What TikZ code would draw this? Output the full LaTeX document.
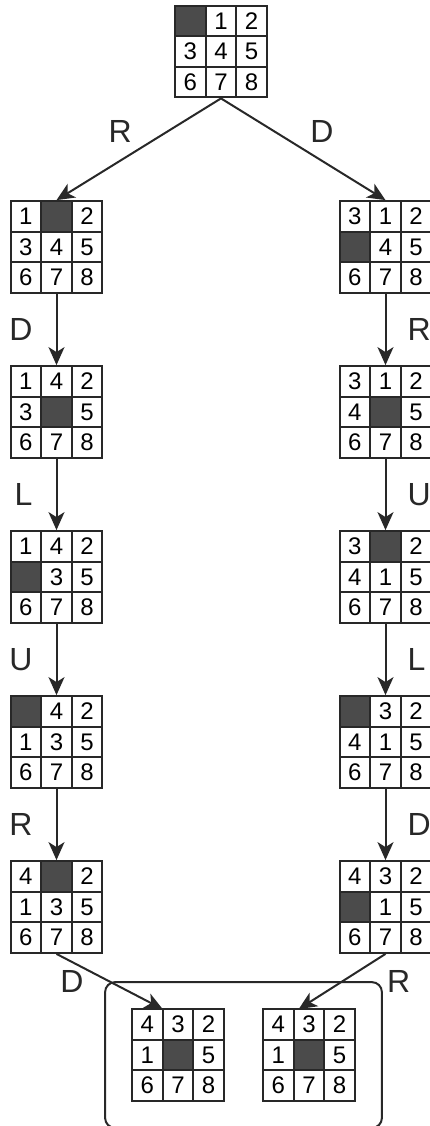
\documentclass[tikz,border=0pt]{standalone}
\usepackage{fontspec}
\setmainfont{Liberation Sans}
\usetikzlibrary{arrows.meta, positioning, matrix, fit, calc}
\definecolor{linegray}{RGB}{40, 40, 40}
\definecolor{blankgray}{RGB}{75, 75, 75}

\begin{document}
\begin{tikzpicture}[
    x=0.5pt, y=-0.5pt,
    node distance=35.6pt,
    board/.style={matrix of nodes, nodes in empty cells, inner sep=0pt, outer sep=0pt, column sep=-1pt, row sep=-1pt,
        nodes={draw=linegray, line width=1pt, minimum size=15.3pt, inner sep=0pt, anchor=center, font=\fontsize{12}{14}\selectfont}},
    blank/.style={fill=blankgray},
    move/.style={font=\fontsize{16}{19}\selectfont, inner sep=3pt},
    arrow/.style={-{Stealth[length=9pt, width=8pt, inset=2.5pt]}, line width=1pt, linegray},
    goalbox/.style={draw=linegray, line width=1pt, rounded corners=5pt, inner sep=13pt}
]
    \useasboundingbox (0,0) rectangle (429,1126);

    % Start state
    \matrix[board] (start) at (221,51.5) {
        |[blank]| & 1 & 2 \\
        3 & 4 & 5 \\
        6 & 7 & 8 \\
    };

    % Left branch
    \matrix[board] (left1) at (56.5,247) {
        1 & |[blank]| & 2 \\
        3 & 4 & 5 \\
        6 & 7 & 8 \\
    };
    \matrix[board, below=of left1] (left2) {
        1 & 4 & 2 \\
        3 & |[blank]| & 5 \\
        6 & 7 & 8 \\
    };
    \matrix[board, below=of left2] (left3) {
        1 & 4 & 2 \\
        |[blank]| & 3 & 5 \\
        6 & 7 & 8 \\
    };
    \matrix[board, below=of left3] (left4) {
        |[blank]| & 4 & 2 \\
        1 & 3 & 5 \\
        6 & 7 & 8 \\
    };
    \matrix[board, below=of left4] (left5) {
        4 & |[blank]| & 2 \\
        1 & 3 & 5 \\
        6 & 7 & 8 \\
    };

    % Right branch
    \matrix[board] (right1) at (385.5,247) {
        3 & 1 & 2 \\
        |[blank]| & 4 & 5 \\
        6 & 7 & 8 \\
    };
    \matrix[board, below=of right1] (right2) {
        3 & 1 & 2 \\
        4 & |[blank]| & 5 \\
        6 & 7 & 8 \\
    };
    \matrix[board, below=of right2] (right3) {
        3 & |[blank]| & 2 \\
        4 & 1 & 5 \\
        6 & 7 & 8 \\
    };
    \matrix[board, below=of right3] (right4) {
        |[blank]| & 3 & 2 \\
        4 & 1 & 5 \\
        6 & 7 & 8 \\
    };
    \matrix[board, below=of right4] (right5) {
        4 & 3 & 2 \\
        |[blank]| & 1 & 5 \\
        6 & 7 & 8 \\
    };

    % Goal states
    \matrix[board] (goalL) at (178,1055) {
        4 & 3 & 2 \\
        1 & |[blank]| & 5 \\
        6 & 7 & 8 \\
    };
    \matrix[board] (goalR) at (309,1055) {
        4 & 3 & 2 \\
        1 & |[blank]| & 5 \\
        6 & 7 & 8 \\
    };
    \node[goalbox, fit=(goalL)(goalR)] (goal) {};

    % Arrows
    \draw[arrow] (start.south) -- (left1.north) node[midway, above left, move] {R};
    \draw[arrow] (start.south) -- (right1.north) node[midway, above right, move] {D};

    \draw[arrow] (left1.south) -- (left2.north) node[midway, left=8.5pt, move] {D};
    \draw[arrow] (left2.south) -- (left3.north) node[midway, left=8.5pt, move] {L};
    \draw[arrow] (left3.south) -- (left4.north) node[midway, left=8.5pt, move] {U};
    \draw[arrow] (left4.south) -- (left5.north) node[midway, left=8.5pt, move] {R};

    \draw[arrow] (right1.south) -- (right2.north) node[midway, right=7.5pt, move] {R};
    \draw[arrow] (right2.south) -- (right3.north) node[midway, right=7.5pt, move] {U};
    \draw[arrow] (right3.south) -- (right4.north) node[midway, right=7.5pt, move] {L};
    \draw[arrow] (right4.south) -- (right5.north) node[midway, right=7.5pt, move] {D};

    \draw[arrow] (left5.south) -- (goalL-1-2.north west) node[midway, left=9.5pt, move] {D};
    \draw[arrow] (right5.south) -- ($(goalR-1-2.north west)+(5,0)$) node[midway, right=19pt, move] {R};
\end{tikzpicture}
\end{document}
